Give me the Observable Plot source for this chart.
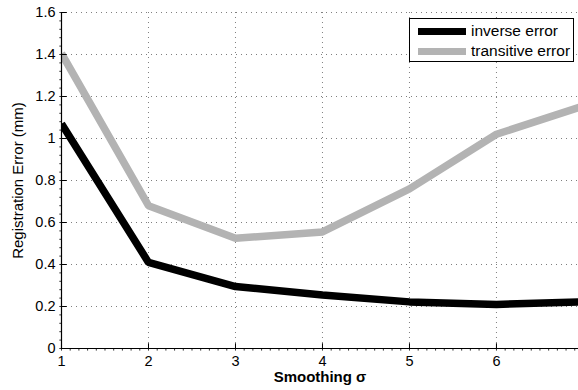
<!DOCTYPE html>
<html>
<head>
<meta charset="utf-8">
<script src="https://cdn.jsdelivr.net/npm/d3@7"></script>
<script src="https://cdn.jsdelivr.net/npm/@observablehq/plot@0.6"></script>
<style>
  html, body { margin: 0; padding: 0; background: #fff; overflow: hidden; }
  #wrap { position: relative; width: 578px; height: 390px; font-family: "Liberation Sans", Arial, sans-serif; }
  #wrap svg g[aria-label$="tick label"], #wrap svg g[aria-label$="tick label"] text { font-size: 14.5px; }
  #legend { position: absolute; left: 409px; top: 18px; width: 165px; height: 44px; border: 1px solid #000; background: #fff; box-sizing: border-box; font-size: 15.5px; }
  .item { position: absolute; left: 8px; display: flex; align-items: center; height: 18px; white-space: nowrap; }
  .swatch { width: 48px; height: 7px; margin-right: 5px; flex: none; }
</style>
</head>
<body>
<div id="wrap"></div>
<script>
// Data
const sigma = [1, 2, 3, 4, 5, 6, 7];
const inverseError = [1.07, 0.41, 0.295, 0.255, 0.222, 0.21, 0.222];
const transitiveError = [1.405, 0.68, 0.525, 0.555, 0.76, 1.02, 1.155];
const seriesNames = ["inverse error", "transitive error"];
const seriesColors = ["#000000", "#b3b3b3"];
const xTicks = [1, 2, 3, 4, 5, 6];
const yTicks = [0, 0.2, 0.4, 0.6, 0.8, 1, 1.2, 1.4, 1.6];

const rows = [];
sigma.forEach((s, i) => {
  rows.push({sigma: s, value: inverseError[i], series: seriesNames[0]});
  rows.push({sigma: s, value: transitiveError[i], series: seriesNames[1]});
});

const xMinor = d3.range(1, 7.0001, 0.1);
const yMinor = d3.range(0, 1.6001, 0.04);

const chart = Plot.plot({
  width: 578,
  height: 390,
  marginLeft: 61,
  marginRight: 0,
  marginTop: 12,
  marginBottom: 42,
  style: {fontFamily: "Liberation Sans, Arial, sans-serif", fontSize: "14.5px", background: "#fff", color: "#000"},
  x: {domain: [1, 6.943]},
  y: {domain: [0, 1.6]},
  color: {domain: seriesNames, range: seriesColors},
  marks: [
    Plot.gridX(xTicks.slice(1), {stroke: "#000", strokeOpacity: 0.5, strokeDasharray: "1,4"}),
    Plot.gridY(yTicks.slice(1), {stroke: "#000", strokeOpacity: 0.5, strokeDasharray: "1,4"}),
    Plot.line(rows, {x: "sigma", y: "value", stroke: "series", z: "series", strokeWidth: 7.5, strokeLinejoin: "miter", strokeLinecap: "butt", clip: true}),
    // minor ticks
    Plot.link(xMinor, {x1: d => d, x2: d => d, y1: 0, y2: -0.01, stroke: "#000", strokeWidth: 0.8}),
    Plot.link(yMinor, {y1: d => d, y2: d => d, x1: 1, x2: 0.975, stroke: "#000", strokeWidth: 0.8}),
    // major inward ticks
    Plot.link(xTicks.slice(1), {x1: d => d, x2: d => d, y1: 0, y2: 0.025, stroke: "#000", strokeWidth: 1}),
    Plot.link(yTicks.slice(1), {y1: d => d, y2: d => d, x1: 1, x2: 1.06, stroke: "#000", strokeWidth: 1}),
    Plot.ruleY([0], {stroke: "#000", strokeWidth: 1.2}),
    Plot.ruleX([1], {stroke: "#000", strokeWidth: 1.2}),
    Plot.axisX(xTicks, {tickSize: 0, tickPadding: 7, label: null, fontSize: 14.5}),
    Plot.axisY(yTicks, {tickSize: 0, tickPadding: 6, label: null, fontSize: 14.5, tickFormat: d => String(d)}),
    Plot.text(["Smoothing σ"], {frameAnchor: "bottom", dy: 33, fontWeight: "bold", fontSize: 15}),
    Plot.text(["Registration Error (mm)"], {frameAnchor: "left", textAnchor: "middle", dx: -43, rotate: -90, fontSize: 15})
  ]
});

const wrap = document.getElementById("wrap");
wrap.appendChild(chart);

const legend = document.createElement("div");
legend.id = "legend";
seriesNames.forEach((name, i) => {
  const item = document.createElement("div");
  item.className = "item";
  item.style.top = (i === 0 ? 3 : 23) + "px";
  const sw = document.createElement("div");
  sw.className = "swatch";
  sw.style.background = seriesColors[i];
  const t = document.createElement("span");
  t.textContent = name;
  item.appendChild(sw);
  item.appendChild(t);
  legend.appendChild(item);
});
wrap.appendChild(legend);
</script>
</body>
</html>
